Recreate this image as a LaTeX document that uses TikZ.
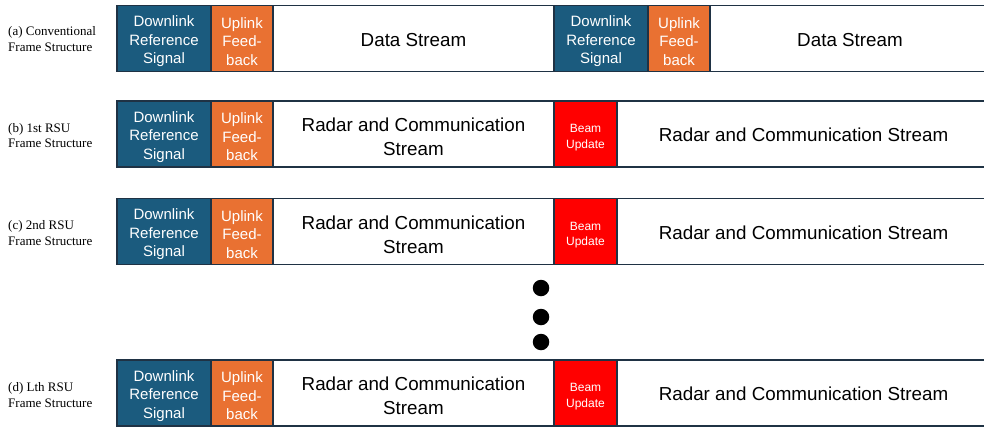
\documentclass[tikz,border=0pt]{standalone}
\usepackage{fontspec}
\setmainfont{Liberation Serif}
\setsansfont{Liberation Sans}
\usetikzlibrary{positioning}
\definecolor{dlblue}{HTML}{1B5B7E}
\definecolor{ulorange}{HTML}{E97132}
\definecolor{beamred}{HTML}{FF0000}
\definecolor{edgenavy}{HTML}{1F3244}
\newcommand{\slotstrut}[1]{\rule{0pt}{#1}}
\tikzset{
	slot/.style={draw=edgenavy, line width=1.5pt, minimum height=66pt, inner sep=0pt, outer sep=0pt, align=center},
	dlslot/.style={slot, fill=dlblue, text=white, minimum width=94pt, font=\sffamily\fontsize{15}{18.5}\selectfont},
	ulslot/.style={slot, fill=ulorange, text=white, minimum width=62pt, font=\sffamily\fontsize{15}{18.5}\selectfont},
	beamslot/.style={slot, fill=beamred, text=white, minimum width=63pt, font=\sffamily\fontsize{12}{15.5}\selectfont},
	streamslot/.style={slot, fill=white, text=black, font=\sffamily\fontsize{18.8}{24}\selectfont},
	framelabel/.style={anchor=west, align=left, inner sep=0pt, font=\fontsize{13}{15.5}\selectfont},
	gapdot/.style={circle, fill=black, inner sep=0pt, minimum size=16.5pt},
}
\newcommand{\dltext}{\slotstrut{17pt}Downlink\\Reference\\Signal}
\newcommand{\ultext}{\slotstrut{17pt}Uplink\\Feed-\\back}
\newcommand{\beamtext}{\slotstrut{15.6pt}Beam\\Update}
\begin{document}
\begin{tikzpicture}[x=1pt, y=-1pt]
	\useasboundingbox (0,0) rectangle (984,431);
	\clip (0,0) rectangle (984,431);
	
	\node[framelabel] (la) at (8,39) {(a) Conventional\\Frame Structure};
	\node[dlslot] (a1) at (164,38.5) {\dltext};
	\node[ulslot, right=0pt of a1] (a2) {\ultext};
	\node[streamslot, minimum width=281pt, right=0pt of a2] (a3) {\slotstrut{16.5pt}Data Stream};
	\node[dlslot, right=0pt of a3] (a4) {\dltext};
	\node[ulslot, right=0pt of a4] (a5) {\ultext};
	\node[streamslot, minimum width=280pt, right=0pt of a5] (a6) {\slotstrut{16.5pt}Data Stream};
	
	\node[framelabel] (lb) at (8,135.5) {(b) 1st RSU\\Frame Structure};
	\node[dlslot] (b1) at (164,134) {\dltext};
	\node[ulslot, right=0pt of b1] (b2) {\ultext};
	\node[streamslot, minimum width=281pt, right=0pt of b2] (b3) {\slotstrut{19.5pt}Radar and Communication\\Stream};
	\node[beamslot, right=0pt of b3] (b4) {\beamtext};
	\node[streamslot, minimum width=373pt, right=0pt of b4] (b5) {\slotstrut{15.5pt}Radar and Communication Stream};
	
	\node[framelabel] (lc) at (8,233) {(c) 2nd RSU\\Frame Structure};
	\node[dlslot] (c1) at (164,231.5) {\dltext};
	\node[ulslot, right=0pt of c1] (c2) {\ultext};
	\node[streamslot, minimum width=281pt, right=0pt of c2] (c3) {\slotstrut{19.5pt}Radar and Communication\\Stream};
	\node[beamslot, right=0pt of c3] (c4) {\beamtext};
	\node[streamslot, minimum width=373pt, right=0pt of c4] (c5) {\slotstrut{15.5pt}Radar and Communication Stream};
	
	\node[gapdot] (dot1) at (541,288) {};
	\node[gapdot] (dot2) at (541,317) {};
	\node[gapdot] (dot3) at (541,342) {};
	
	\node[framelabel] (ld) at (8,395) {(d) Lth RSU\\Frame Structure};
	\node[dlslot] (d1) at (164,393) {\dltext};
	\node[ulslot, right=0pt of d1] (d2) {\ultext};
	\node[streamslot, minimum width=281pt, right=0pt of d2] (d3) {\slotstrut{19.5pt}Radar and Communication\\Stream};
	\node[beamslot, right=0pt of d3] (d4) {\beamtext};
	\node[streamslot, minimum width=373pt, right=0pt of d4] (d5) {\slotstrut{15.5pt}Radar and Communication Stream};
\end{tikzpicture}
\end{document}
